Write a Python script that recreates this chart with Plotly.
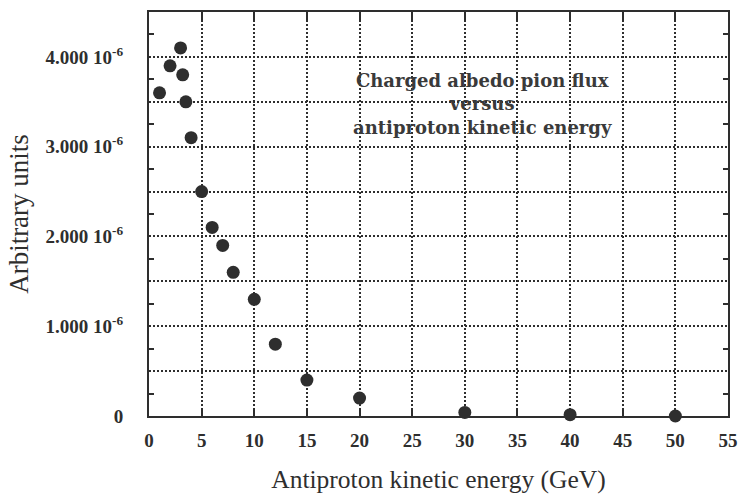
import plotly.graph_objects as go

energy_gev = [1, 2, 3, 3.2, 3.5, 4, 5, 6, 7, 8, 10, 12, 15, 20, 30, 40, 50]
flux_e6 = [3.6, 3.9, 4.1, 3.8, 3.5, 3.1, 2.5, 2.1, 1.9, 1.6, 1.3, 0.8, 0.4, 0.2, 0.04, 0.015, 0.0]
flux = [v * 1e-6 for v in flux_e6]

y_tickvals_e6 = [0, 0.5, 1, 1.5, 2, 2.5, 3, 3.5, 4, 4.5]
y_ticktext = ["0", "", "1.000 10<sup>-6</sup>", "", "2.000 10<sup>-6</sup>", "",
              "3.000 10<sup>-6</sup>", "", "4.000 10<sup>-6</sup>", ""]
x_tickvals = [0, 5, 10, 15, 20, 25, 30, 35, 40, 45, 50, 55]

INK = "#2e2e2e"
SERIF = "Liberation Serif, Times New Roman, serif"

fig = go.Figure()
fig.add_trace(go.Scatter(
    x=energy_gev, y=flux, mode="markers",
    marker=dict(size=13, color=INK),
    cliponaxis=False, showlegend=False,
))

fig.add_annotation(
    x=31.7, y=3.48e-6, xref="x", yref="y",
    text="<b>Charged albedo pion flux<br>versus<br>antiproton kinetic energy</b>",
    showarrow=False, align="center",
    font=dict(family="DejaVu Serif, serif", size=18, color="#3a3a3a"),
)

fig.update_xaxes(
    range=[0, 55], tickvals=x_tickvals,
    ticktext=[f"<b>{v}</b>" for v in x_tickvals],
    showgrid=True, gridcolor=INK, gridwidth=1.5, griddash="2px,2px",
    showline=True, linecolor=INK, linewidth=2, mirror="ticks",
    ticks="inside", ticklen=8, tickwidth=1.5, tickcolor=INK,
    zeroline=False, ticklabelstandoff=6, automargin=False,
    tickfont=dict(family=SERIF, size=19, color=INK),
    title=dict(text="Antiproton kinetic energy (GeV)", standoff=20,
               font=dict(family=SERIF, size=25.5, color=INK)),
)
fig.update_yaxes(
    range=[0, 4.5e-6], tickvals=[v * 1e-6 for v in y_tickvals_e6],
    ticktext=[f"<b>{t}</b>" if t else "" for t in y_ticktext],
    showgrid=True, gridcolor=INK, gridwidth=1.5, griddash="2px,2px",
    showline=True, linecolor=INK, linewidth=2, mirror="ticks",
    ticks="", zeroline=False, ticklabelstandoff=20, automargin=False,
    minor=dict(ticks="inside", ticklen=5, tickwidth=1.5, tickcolor=INK,
               tickmode="linear", tick0=0.25e-6, dtick=0.5e-6, showgrid=False),
    tickfont=dict(family=SERIF, size=19, color=INK),
    title=dict(text="Arbitrary units", standoff=9,
               font=dict(family=SERIF, size=27, color=INK)),
)

fig.update_layout(
    width=740, height=496,
    margin=dict(l=149, r=12, t=12, b=80),
    paper_bgcolor="white", plot_bgcolor="white",
)

fig.write_html("out.html")
